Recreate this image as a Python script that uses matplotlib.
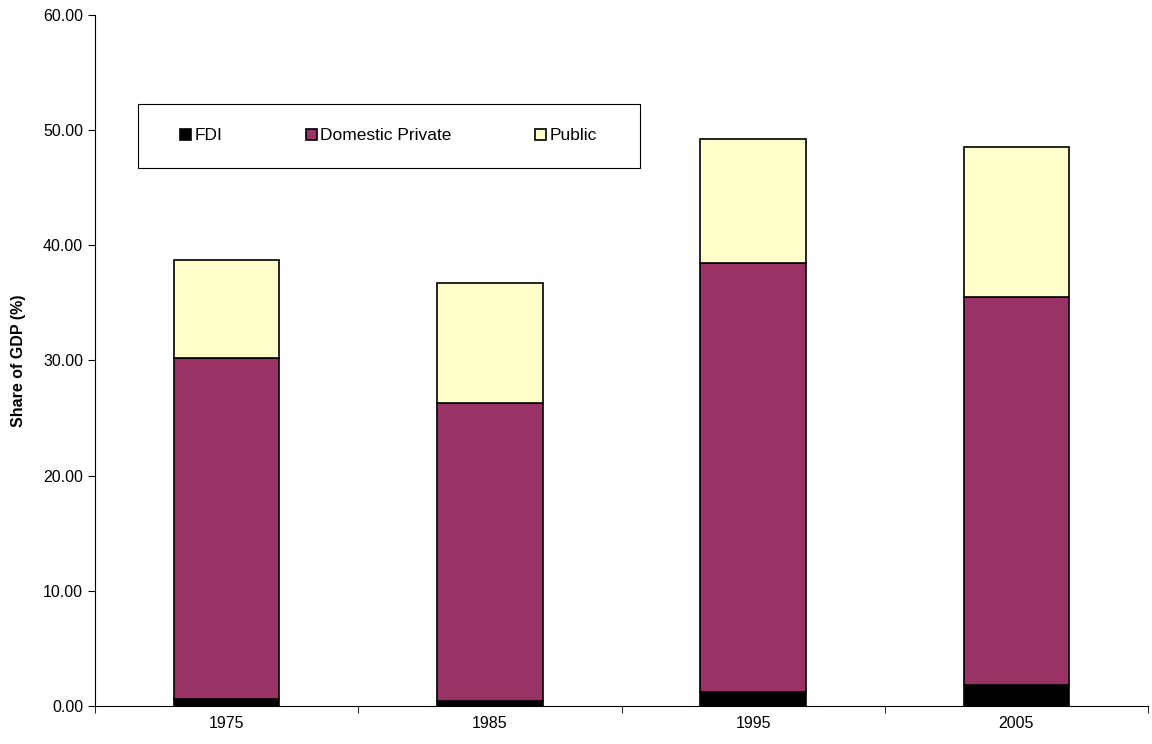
import numpy as np
import matplotlib
matplotlib.use("Agg")
import matplotlib.pyplot as plt
from matplotlib.patches import Rectangle

plt.rcParams['font.family'] = ['Liberation Sans', 'DejaVu Sans']

years = ['1975', '1985', '1995', '2005']
fdi = [0.6, 0.4, 1.2, 1.8]
domestic = [29.6, 25.9, 37.3, 33.7]
public = [8.5, 10.4, 10.7, 13.0]

fig = plt.figure(figsize=(11.52, 7.44), dpi=100)
ax = fig.add_axes([0.0825, 0.051, 0.914, 0.929])

x = np.arange(len(years))
w = 0.4
fdi = np.array(fdi); domestic = np.array(domestic); public = np.array(public)
ax.bar(x, fdi, w, color='black', edgecolor='black', linewidth=1.2, label='FDI')
ax.bar(x, domestic, w, bottom=fdi, color='#993366', edgecolor='black', linewidth=1.2,
       label='Domestic Private')
ax.bar(x, public, w, bottom=fdi + domestic, color='#FFFFCC', edgecolor='black',
       linewidth=1.2, label='Public')

ax.set_xlim(-0.5, 3.5)
ax.set_ylim(0, 60)
ax.set_yticks(np.arange(0, 61, 10))
ax.set_yticklabels(['%.2f' % v for v in np.arange(0, 61, 10)], fontsize=11.5)
ax.set_xticks(x)
ax.set_xticklabels(years, fontsize=11.5)
ax.tick_params(axis='x', which='major', length=0, pad=7)
ax.set_xticks(np.arange(-0.5, 4, 1), minor=True)
ax.tick_params(axis='x', which='minor', length=5, direction='out')
ax.tick_params(axis='y', length=5, direction='out')
ax.spines['top'].set_visible(False)
ax.spines['right'].set_visible(False)
ax.set_ylabel('Share of GDP (%)', fontsize=11.5, fontweight='bold', labelpad=12)

# legend box
fig.patches.append(Rectangle((138 / 1152, 1 - 168 / 744), 502 / 1152, 64 / 744,
                             transform=fig.transFigure, facecolor='white',
                             edgecolor='black', linewidth=0.8, zorder=1))
leg = fig.legend(loc='center left', bbox_to_anchor=(164 / 1152, 1 - 136 / 744), ncol=3,
                 frameon=False, fontsize=12.5, handlelength=0.65, handleheight=0.65,
                 handletextpad=0.2, columnspacing=4.8)
leg.set_zorder(2)

fig.savefig('out.png', dpi=100)
